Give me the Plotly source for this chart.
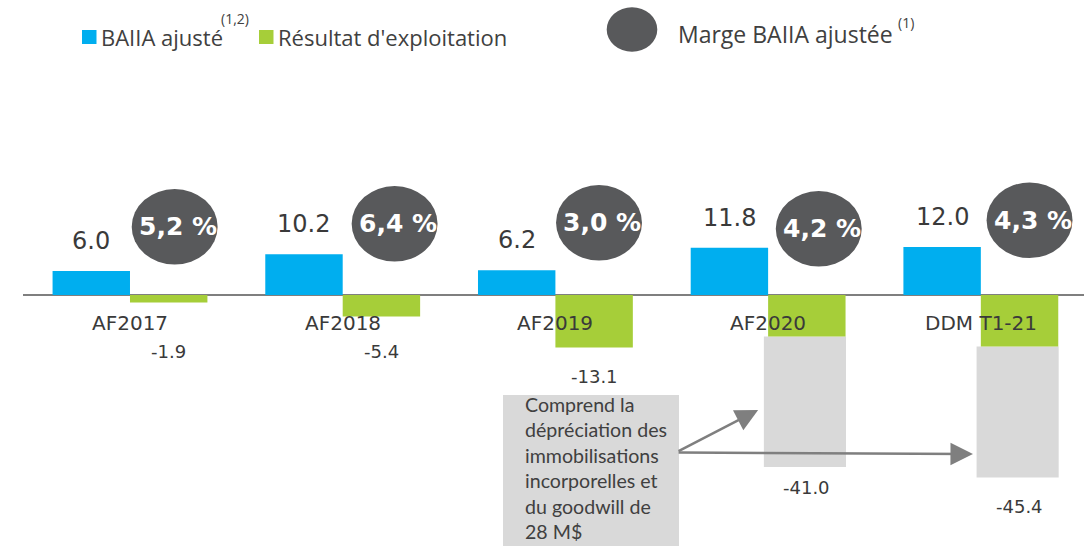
import plotly.graph_objects as go

# ---------------- data ----------------
categories = ["AF2017", "AF2018", "AF2019", "AF2020", "DDM T1-21"]
baiia = [6.0, 10.2, 6.2, 11.8, 12.0]
op_income = [-1.9, -5.4, -13.1, -41.0, -45.4]          # labelled totals
op_income_ex_impairment = [-1.9, -5.4, -13.1, -10.4, -12.9]  # green segment
impairment = [0.0, 0.0, 0.0, -32.6, -32.7]             # grey segment
margins = ["5,2 %", "6,4 %", "3,0 %", "4,2 %", "4,3 %"]
baiia_labels = ["6.0", "10.2", "6.2", "11.8", "12.0"]
op_labels = ["-1.9", "-5.4", "-13.1", "-41.0", "-45.4"]
note_lines = ["Comprend la", "dépréciation des", "immobilisations",
              "incorporelles et", "du goodwill de", "28 M$"]

# ---------------- styles ----------------
BLUE = "#00AEEF"
GREEN = "#A6CE39"
LIGHT = "#D9D9D9"
DARK = "#58595B"
TXT = "#3A3A3A"
AX = "#7F7F7F"

xs = list(range(len(categories)))
BW = 0.364

fig = go.Figure()
fig.add_bar(x=xs, y=baiia, offset=-BW, width=BW, marker_color=BLUE,
            marker_line_width=0, name="BAIIA ajusté", showlegend=False)
fig.add_bar(x=xs, y=impairment, base=op_income_ex_impairment, offset=-0.02,
            width=BW + 0.022, marker_color=LIGHT, marker_line_width=0,
            showlegend=False)
fig.add_bar(x=xs, y=op_income_ex_impairment, offset=0, width=BW,
            marker_color=GREEN, marker_line_width=0,
            name="Résultat d'exploitation", showlegend=False)

ann = []
# category labels
for i, c in enumerate(categories):
    ann.append(dict(x=i, y=0, yshift=-28, text=c, showarrow=False,
                    xanchor="center", yanchor="middle",
                    font=dict(family="DejaVu Sans", size=20, color=TXT)))
# BAIIA value labels
for i, (v, t) in enumerate(zip(baiia, baiia_labels)):
    ann.append(dict(x=i - BW / 2, y=v, yshift=30, text=t, showarrow=False,
                    xanchor="center", yanchor="middle",
                    font=dict(family="DejaVu Sans", size=24, color=TXT)))
# operating income labels
neg_shift = [-49, -35, -29, -20, -29]
for i, (g, imp, t) in enumerate(zip(op_income_ex_impairment, impairment, op_labels)):
    ann.append(dict(x=i + BW / 2, y=g + imp, yshift=neg_shift[i], text=t,
                    showarrow=False, xanchor="center", yanchor="middle",
                    font=dict(family="DejaVu Sans", size=18, color=TXT)))

shapes = []
# margin ellipses
circ_dx = [0.21, 0.244, 0.205, 0.238, 0.229]
circ_y = [17.05, 17.8, 18.05, 16.55, 18.68]
CW, CH = 0.404, 18.9
for i, m in enumerate(margins):
    cx, cy = i + circ_dx[i], circ_y[i]
    shapes.append(dict(type="circle", xref="x", yref="y",
                       x0=cx - CW / 2, x1=cx + CW / 2,
                       y0=cy - CH / 2, y1=cy + CH / 2,
                       fillcolor=DARK, line_width=0, layer="above"))
    ann.append(dict(x=cx, y=cy, xshift=3, text="<b>" + m + "</b>",
                    showarrow=False, xanchor="center", yanchor="middle",
                    font=dict(family="DejaVu Sans", size=25, color="white")))


def px(x):
    return (x - 23) / 1061


def py(y):
    return 1 - y / 546


# note box
shapes.append(dict(type="rect", xref="paper", yref="paper",
                   x0=px(503), x1=px(679), y0=-0.2, y1=py(395),
                   fillcolor=LIGHT, line_width=0, layer="above"))
ann.append(dict(xref="paper", yref="paper", x=px(523), y=py(468),
                text="<br>".join(note_lines), align="left",
                showarrow=False, xanchor="left", yanchor="middle",
                font=dict(family="Lato", size=19.6, color="#404040")))
# arrows
ann.append(dict(x=2.953, y=-28.75, ax=2.572, ay=-39.25, axref="x", ayref="y",
                text="", showarrow=True, arrowhead=2, arrowsize=1.8,
                arrowwidth=2.5, arrowcolor=AX))
ann.append(dict(x=3.963, y=-39.75, ax=2.572, ay=-39.4, axref="x", ayref="y",
                text="", showarrow=True, arrowhead=2, arrowsize=1.8,
                arrowwidth=2.5, arrowcolor=AX))

# custom legend
shapes.append(dict(type="rect", xref="paper", yref="paper",
                   x0=px(82), x1=px(96.5), y0=py(44), y1=py(30),
                   fillcolor=BLUE, line_width=0))
shapes.append(dict(type="rect", xref="paper", yref="paper",
                   x0=px(259), x1=px(273.5), y0=py(44), y1=py(30),
                   fillcolor=GREEN, line_width=0))
shapes.append(dict(type="circle", xref="paper", yref="paper",
                   x0=px(606.7), x1=px(657.3), y0=py(51.7), y1=py(7.3),
                   fillcolor=DARK, line_width=0))
LEG = dict(family="Open Sans", size=22, color="#404040")
SUP = dict(family="Open Sans", size=14, color="#404040")
ann.append(dict(xref="paper", yref="paper", x=px(99), y=py(37),
                text="BAIIA ajusté", showarrow=False, xanchor="left",
                yanchor="middle", font=LEG))
ann.append(dict(xref="paper", yref="paper", x=px(219), y=py(19),
                text="(1,2)", showarrow=False, xanchor="left",
                yanchor="middle", font=SUP))
ann.append(dict(xref="paper", yref="paper", x=px(276), y=py(37),
                text="Résultat d'exploitation", showarrow=False,
                xanchor="left", yanchor="middle", font=LEG))
ann.append(dict(xref="paper", yref="paper", x=px(676), y=py(34),
                text="Marge BAIIA ajustée", showarrow=False,
                xanchor="left", yanchor="middle",
                font=dict(family="Open Sans", size=23, color="#404040")))
ann.append(dict(xref="paper", yref="paper", x=px(896), y=py(23),
                text="(1)", showarrow=False, xanchor="left",
                yanchor="middle", font=SUP))

fig.update_layout(
    width=1084, height=546,
    margin=dict(l=23, r=0, t=0, b=0),
    paper_bgcolor="white", plot_bgcolor="white",
    barmode="overlay", showlegend=False,
    xaxis=dict(range=[-0.503, 4.485], visible=False, fixedrange=True),
    yaxis=dict(range=[-62.75, 73.75], showgrid=False, showticklabels=False,
               zeroline=True, zerolinecolor=AX, zerolinewidth=2,
               fixedrange=True),
    annotations=ann, shapes=shapes,
)

fig.write_html("out.html",
               config={"displayModeBar": False},
               post_script="document.body.style.margin='0px';"
                           "document.body.style.overflow='hidden';")
